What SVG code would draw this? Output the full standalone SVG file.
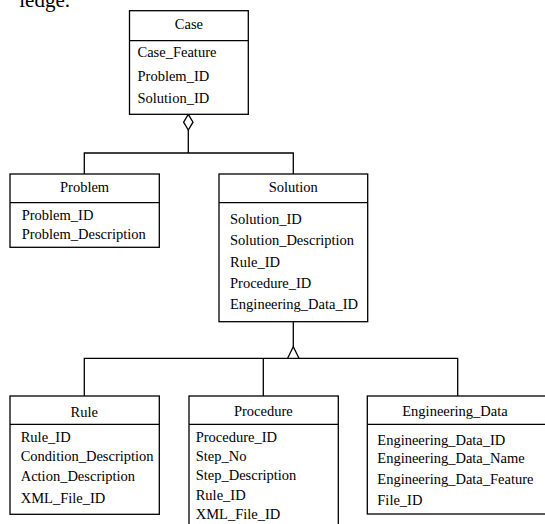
<svg xmlns="http://www.w3.org/2000/svg" width="545" height="524" viewBox="0 0 545 524">
  <style>
    .box { fill: #fff; stroke: #000; stroke-width: 1.3; }
    .div { stroke: #000; stroke-width: 1.3; }
    .t { font-family: "Liberation Serif", "Times New Roman", serif; font-size: 14.5px; fill: #000; }
    .c { text-anchor: middle; }
    .conn { fill: none; stroke: #000; stroke-width: 1.3; }
  </style>
  <rect width="545" height="524" fill="#fff"/>
  <text x="70" y="7" class="t" style="font-size:21px" text-anchor="end">ledge.</text>

  <g id="connectors">
    <!-- aggregation: Case to Problem / Solution -->
    <path class="conn" d="M188.3 130 V153 M84.3 174 V153 H293.3 V174"/>
    <polygon points="188.3,114.3 193,122.2 188.3,130 183.6,122.2" fill="#fff" stroke="#000" stroke-width="1.3"/>
    <!-- generalization: Solution to Rule / Procedure / Engineering_Data -->
    <path class="conn" d="M293.3 321.7 V346.7 M84.3 396 V358.3 H457.7 V396 M263.3 358.3 V396"/>
    <polygon points="293.3,346.7 299,358.3 287.6,358.3" fill="#fff" stroke="#000" stroke-width="1.3"/>
  </g>

  <g id="case">
    <rect class="box" x="129.5" y="10.7" width="118.8" height="103.6"/>
    <line class="div" x1="129.5" y1="40.7" x2="248.3" y2="40.7"/>
    <text class="t c" x="188.9" y="29.3">Case</text>
    <text class="t" x="137.5" y="56.7">Case_Feature</text>
    <text class="t" x="137.5" y="80.7">Problem_ID</text>
    <text class="t" x="137.5" y="103.3">Solution_ID</text>
  </g>

  <g id="problem">
    <rect class="box" x="10" y="174" width="149.3" height="73.3"/>
    <line class="div" x1="10" y1="202.7" x2="159.3" y2="202.7"/>
    <text class="t c" x="84.6" y="192.3">Problem</text>
    <text class="t" x="21.7" y="219.5">Problem_ID</text>
    <text class="t" x="21.7" y="239.3">Problem_Description</text>
  </g>

  <g id="solution">
    <rect class="box" x="219" y="174" width="148.7" height="147.7"/>
    <line class="div" x1="219" y1="202.7" x2="367.7" y2="202.7"/>
    <text class="t c" x="293.3" y="192.3">Solution</text>
    <text class="t" x="230" y="224.3">Solution_ID</text>
    <text class="t" x="230" y="245">Solution_Description</text>
    <text class="t" x="230" y="267">Rule_ID</text>
    <text class="t" x="230" y="288.3">Procedure_ID</text>
    <text class="t" x="230" y="309.3">Engineering_Data_ID</text>
  </g>

  <g id="rule">
    <rect class="box" x="10" y="396" width="149.3" height="118.3"/>
    <line class="div" x1="10" y1="424.3" x2="159.3" y2="424.3"/>
    <text class="t c" x="84.3" y="416.5">Rule</text>
    <text class="t" x="20.7" y="441.7">Rule_ID</text>
    <text class="t" x="20.7" y="461">Condition_Description</text>
    <text class="t" x="20.7" y="480.7">Action_Description</text>
    <text class="t" x="20.7" y="503.3">XML_File_ID</text>
  </g>

  <g id="procedure">
    <rect class="box" x="189" y="396" width="149.3" height="140"/>
    <line class="div" x1="189" y1="424.3" x2="338.3" y2="424.3"/>
    <text class="t c" x="263.3" y="415.5">Procedure</text>
    <text class="t" x="195.7" y="442.3">Procedure_ID</text>
    <text class="t" x="195.7" y="461">Step_No</text>
    <text class="t" x="195.7" y="480">Step_Description</text>
    <text class="t" x="195.7" y="500">Rule_ID</text>
    <text class="t" x="195.7" y="519.3">XML_File_ID</text>
  </g>

  <g id="engineering_data">
    <rect class="box" x="367.3" y="396" width="190" height="118"/>
    <line class="div" x1="367.3" y1="424.3" x2="557.3" y2="424.3"/>
    <text class="t c" x="455" y="415.5">Engineering_Data</text>
    <text class="t" x="377.3" y="445">Engineering_Data_ID</text>
    <text class="t" x="377.3" y="463.3">Engineering_Data_Name</text>
    <text class="t" x="377.3" y="484.3">Engineering_Data_Feature</text>
    <text class="t" x="377.3" y="505">File_ID</text>
  </g>
</svg>
